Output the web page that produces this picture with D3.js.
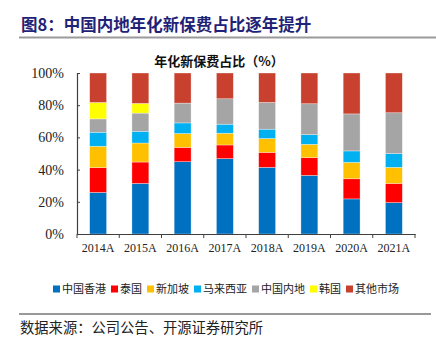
<!DOCTYPE html>
<html lang="zh">
<head>
<meta charset="utf-8">
<title>年化新保费占比</title>
<script src="https://cdn.jsdelivr.net/npm/d3@7"></script>
<style>
  * { margin: 0; padding: 0; }
  body { background: #fff; }
  svg { display: block; }
  .cn { font-family: "Noto Sans CJK SC", sans-serif; }
  .num { font-family: "Liberation Serif", "Times New Roman", serif; }
</style>
</head>
<body>
<div id="chart"></div>
<script>
  var w = 436, h = 340;

  // categories
  var years = ["2014A", "2015A", "2016A", "2017A", "2018A", "2019A", "2020A", "2021A"];

  // share of annualised new premium, %
  var hongKong  = [25.8, 31.4, 44.9, 46.8, 41.4, 36.4, 21.8, 19.5];
  var thailand  = [15.4, 13.3, 8.9, 8.5, 9.3, 11.0, 12.5, 11.9];
  var singapore = [13.3, 11.8, 8.6, 7.3, 8.6, 8.3, 10.2, 10.0];
  var malaysia  = [8.7, 7.3, 6.6, 5.6, 5.8, 6.0, 7.1, 8.5];
  var mainland  = [8.3, 11.3, 12.3, 15.8, 16.6, 19.2, 23.0, 25.4];
  var korea     = [10.2, 6.0, 0, 0, 0, 0, 0, 0];
  var others    = [18.3, 18.9, 18.7, 16.0, 18.3, 19.1, 25.4, 24.7];

  var seriesNames = ["中国香港", "泰国", "新加坡", "马来西亚", "中国内地", "韩国", "其他市场"];
  var seriesValues = [hongKong, thailand, singapore, malaysia, mainland, korea, others];
  var colors = ["#0070C0", "#FF0000", "#FFC000", "#00B0F0", "#A5A5A5", "#FFFF00", "#C8412F"];

  var yTicks = [0, 20, 40, 60, 80, 100];

  // table for d3.stack
  var rows = years.map(function(y, i) {
    var r = { year: y };
    seriesNames.forEach(function(n, j) { r[n] = seriesValues[j][i]; });
    return r;
  });
  var stacked = d3.stack().keys(seriesNames)(rows);

  var svg = d3.select("#chart").append("svg")
      .attr("width", w)
      .attr("height", h);

  // header
  svg.append("text")
      .attr("class", "cn")
      .attr("x", 21)
      .attr("y", 31)
      .attr("font-size", 16.5)
      .attr("font-weight", "bold")
      .attr("fill", "#1F2377")
      .text("图8：中国内地年化新保费占比逐年提升");

  svg.append("line")
      .attr("x1", 19).attr("x2", 436)
      .attr("y1", 37.5).attr("y2", 37.5)
      .attr("stroke", "#9a9a9a")
      .attr("stroke-width", 2);

  // chart title
  svg.append("text")
      .attr("class", "cn")
      .attr("x", 219)
      .attr("y", 66)
      .attr("text-anchor", "middle")
      .attr("font-size", 13)
      .attr("font-weight", "bold")
      .attr("fill", "#111")
      .text("年化新保费占比（%）");

  var x = d3.scaleBand()
      .domain(years)
      .range([77, 415])
      .paddingInner(0.6)
      .paddingOuter(0.3);

  var y = d3.scaleLinear()
      .domain([0, 100])
      .range([234, 73]);

  // bars
  svg.append("g")
    .selectAll("g")
    .data(stacked)
    .enter().append("g")
      .attr("fill", function(d, i) { return colors[i]; })
    .selectAll("rect")
    .data(function(d) { return d; })
    .enter().append("rect")
      .attr("x", function(d) { return x(d.data.year); })
      .attr("width", x.bandwidth())
      .attr("y", function(d) { return y(d[1]); })
      .attr("height", function(d) { return y(d[0]) - y(d[1]); })
      .attr("stroke", "#fff")
      .attr("stroke-opacity", 0.55)
      .attr("stroke-width", 0.6);

  // y axis
  var yAxis = svg.append("g")
      .attr("transform", "translate(77,0)")
      .call(d3.axisRight(y).tickValues(yTicks).tickSize(3).tickFormat(""));
  yAxis.select(".domain").attr("stroke", "#404040").attr("stroke-width", 1.2);
  yAxis.selectAll(".tick line").attr("stroke", "#404040");

  svg.append("g")
    .selectAll("text")
    .data(yTicks)
    .enter().append("text")
      .attr("class", "num")
      .attr("x", 64)
      .attr("y", function(d) { return y(d) + 5; })
      .attr("text-anchor", "end")
      .attr("font-size", 14)
      .attr("fill", "#222")
      .text(function(d) { return d + "%"; });

  // x axis
  var xAxis = svg.append("g")
      .attr("transform", "translate(0,234)")
      .call(d3.axisBottom(x).tickSize(0).tickFormat(""));
  xAxis.select(".domain").attr("stroke", "#404040").attr("stroke-width", 1.2);

  var step = x.step();
  var edges = d3.range(years.length + 1).map(function(i) { return 77 + i * step; });
  svg.append("g")
    .selectAll("line")
    .data(edges)
    .enter().append("line")
      .attr("x1", function(d) { return d; })
      .attr("x2", function(d) { return d; })
      .attr("y1", 234)
      .attr("y2", 238)
      .attr("stroke", "#404040");

  svg.append("g")
    .selectAll("text")
    .data(years)
    .enter().append("text")
      .attr("class", "num")
      .attr("x", function(d) { return x(d) + x.bandwidth() / 2; })
      .attr("y", 252)
      .attr("text-anchor", "middle")
      .attr("font-size", 12)
      .attr("fill", "#222")
      .text(function(d) { return d; });

  // legend
  var legend = svg.append("g").attr("transform", "translate(53,289)");
  var lx = 0;
  seriesNames.forEach(function(n, i) {
    legend.append("rect")
        .attr("x", lx).attr("y", -3.5)
        .attr("width", 7).attr("height", 7)
        .attr("fill", colors[i]);
    var t = legend.append("text")
        .attr("class", "cn")
        .attr("x", lx + 9)
        .attr("y", 4)
        .attr("font-size", 11)
        .attr("fill", "#222")
        .text(n);
    lx += 9 + t.node().getComputedTextLength() + 5;
  });

  // footer
  svg.append("line")
      .attr("x1", 19).attr("x2", 431)
      .attr("y1", 314).attr("y2", 314)
      .attr("stroke", "#333")
      .attr("stroke-width", 1);

  svg.append("text")
      .attr("class", "cn")
      .attr("x", 20)
      .attr("y", 333)
      .attr("font-size", 14.3)
      .attr("fill", "#222")
      .text("数据来源：公司公告、开源证券研究所");
</script>
</body>
</html>
